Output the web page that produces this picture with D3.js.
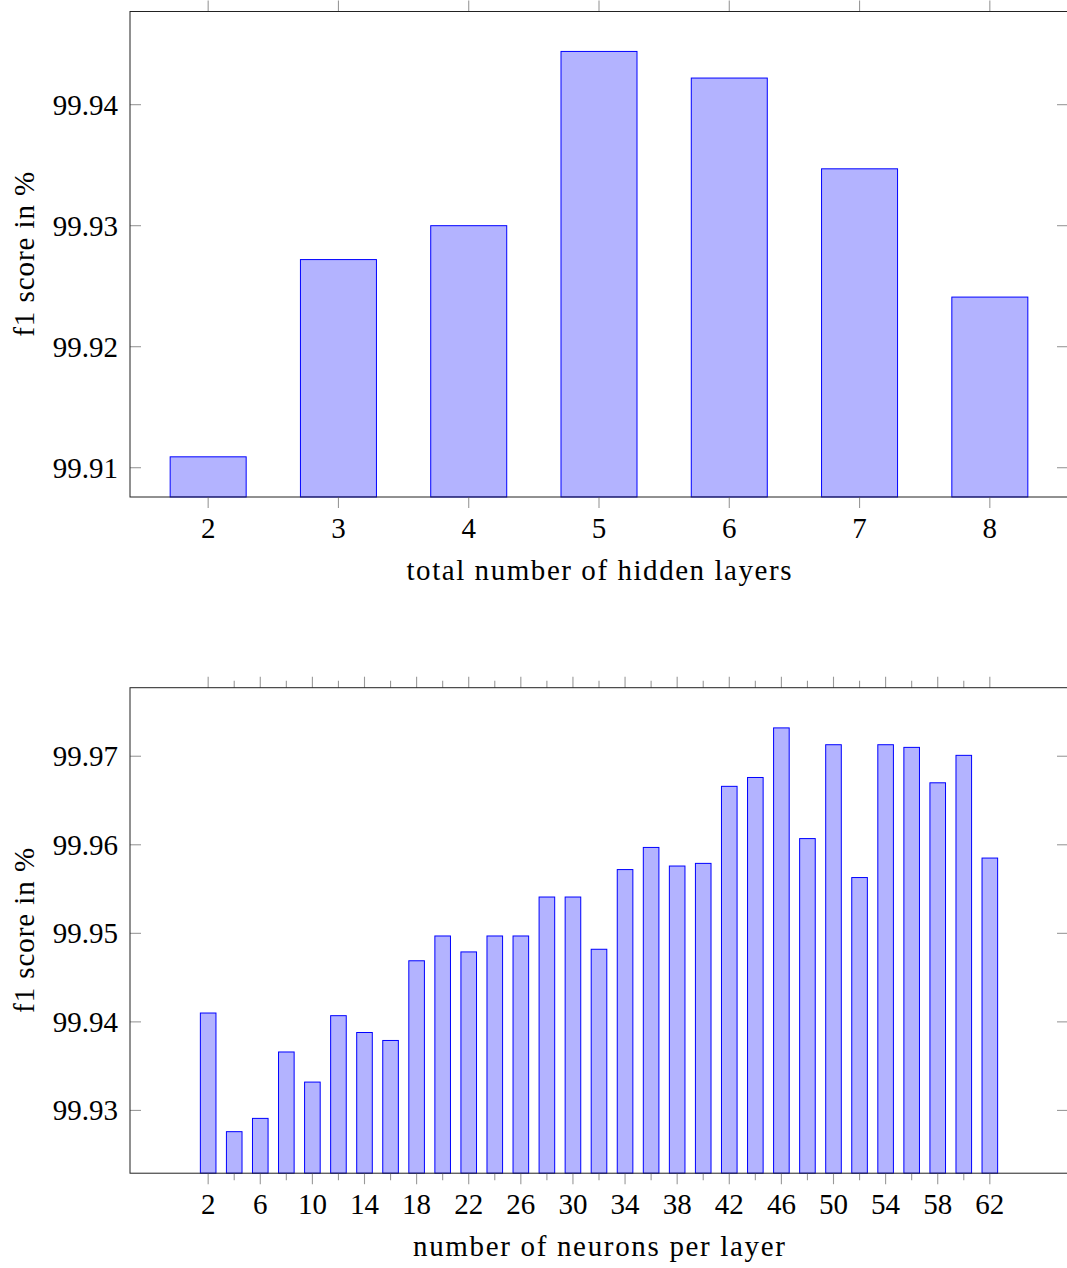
<!DOCTYPE html>
<html>
<head>
<meta charset="utf-8">
<script src="https://cdn.jsdelivr.net/npm/d3@7"></script>
<style>
  body { margin: 0; background: #fff; }
  svg { display: block; }
  text { font-family: "Liberation Serif", "DejaVu Serif", serif; fill: #000; }
</style>
</head>
<body>
<div id="chart"></div>
<script>
// hidden layers panel
const layerCounts = [2, 3, 4, 5, 6, 7, 8];
const layerScores = [99.9109, 99.9272, 99.9300, 99.9444, 99.9422, 99.9347, 99.9241];
const layerYTicks = [99.91, 99.92, 99.93, 99.94];

// neurons per layer panel
const neuronCounts = [2, 4, 6, 8, 10, 12, 14, 16, 18, 20, 22, 24, 26, 28, 30, 32,
    34, 36, 38, 40, 42, 44, 46, 48, 50, 52, 54, 56, 58, 60, 62];
const neuronScores = [99.9410, 99.9276, 99.9291, 99.9366, 99.9332, 99.9407, 99.9388, 99.9379,
    99.9469, 99.9497, 99.9479, 99.9497, 99.9497, 99.9541, 99.9541, 99.9482,
    99.9572, 99.9597, 99.9576, 99.9579, 99.9666, 99.9676, 99.9732, 99.9607,
    99.9713, 99.9563, 99.9713, 99.9710, 99.9670, 99.9701, 99.9585];
const neuronXTicks = [2, 6, 10, 14, 18, 22, 26, 30, 34, 38, 42, 46, 50, 54, 58, 62];
const neuronXMinor = [4, 8, 12, 16, 20, 24, 28, 32, 36, 40, 44, 48, 52, 56, 60];
const neuronYTicks = [99.93, 99.94, 99.95, 99.96, 99.97];

const width = 1067;
const height = 1268;

const svg = d3.create("svg")
    .attr("width", width)
    .attr("height", height);

d3.select("#chart").node().append(svg.node());

const left = 130;
const right = 1068;
const panelHeight = 485.5;

function drawPanel(opts) {
    const top = opts.top;
    const bottom = top + panelHeight;
    const g = svg.append("g");

    const x = d3.scaleLinear().domain(opts.xDomain).range([left, right]);
    const y = d3.scaleLinear().domain(opts.yDomain).range([bottom, top]);

    const bw = opts.barWidth;
    g.append("g")
        .selectAll("rect")
        .data(opts.xs.map((v, i) => ({ x: v, y: opts.ys[i] })))
        .join("rect")
        .attr("x", d => x(d.x) - bw / 2)
        .attr("width", bw)
        .attr("y", d => y(d.y))
        .attr("height", d => bottom - y(d.y))
        .attr("fill", "#b3b3ff")
        .attr("stroke", "#0000ff")
        .attr("stroke-width", 1);

    // x ticks outside, top and bottom
    const ticks = g.append("g").attr("stroke", "#999").attr("stroke-width", 1.1);
    const xt = opts.xTicks.map(v => ({ v, len: 11 }))
        .concat((opts.xMinor || []).map(v => ({ v, len: 7 })));
    xt.forEach(t => {
        ticks.append("line").attr("x1", x(t.v)).attr("x2", x(t.v))
            .attr("y1", bottom).attr("y2", bottom + t.len);
        ticks.append("line").attr("x1", x(t.v)).attr("x2", x(t.v))
            .attr("y1", top).attr("y2", top - t.len);
    });
    // y ticks inside, left and right
    opts.yTicks.forEach(v => {
        ticks.append("line").attr("x1", left).attr("x2", left + 11)
            .attr("y1", y(v)).attr("y2", y(v));
        ticks.append("line").attr("x1", right - 11).attr("x2", right)
            .attr("y1", y(v)).attr("y2", y(v));
    });

    g.append("rect")
        .attr("x", left).attr("y", top)
        .attr("width", right - left).attr("height", panelHeight)
        .attr("fill", "none")
        .attr("stroke", "#222")
        .attr("stroke-width", 1);

    g.append("g")
        .selectAll("text")
        .data(opts.xTicks)
        .join("text")
        .attr("x", d => x(d))
        .attr("y", bottom + 41)
        .attr("text-anchor", "middle")
        .attr("font-size", 29)
        .text(d => d);

    g.append("g")
        .selectAll("text")
        .data(opts.yTicks)
        .join("text")
        .attr("x", 118)
        .attr("y", d => y(d) + 10)
        .attr("text-anchor", "end")
        .attr("font-size", 29)
        .text(d => d.toFixed(2));

    g.append("text")
        .attr("x", (left + right) / 2)
        .attr("y", bottom + 83)
        .attr("text-anchor", "middle")
        .attr("font-size", 29)
        .attr("textLength", opts.xLabelLength)
        .attr("lengthAdjust", "spacing")
        .text(opts.xLabel);

    g.append("text")
        .attr("transform", `translate(34,${(top + bottom) / 2}) rotate(-90)`)
        .attr("text-anchor", "middle")
        .attr("font-size", 29)
        .attr("textLength", 165)
        .attr("lengthAdjust", "spacing")
        .text("f1 score in %");
}

drawPanel({
    top: 11.5,
    xDomain: [1.4, 8.6],
    yDomain: [99.90758, 99.9477],
    xs: layerCounts,
    ys: layerScores,
    barWidth: 76,
    xTicks: layerCounts,
    yTicks: layerYTicks,
    xLabel: "total number of hidden layers",
    xLabelLength: 385
});

drawPanel({
    top: 687.7,
    xDomain: [-4, 68],
    yDomain: [99.92291, 99.97774],
    xs: neuronCounts,
    ys: neuronScores,
    barWidth: 15.6,
    xTicks: neuronXTicks,
    xMinor: neuronXMinor,
    yTicks: neuronYTicks,
    xLabel: "number of neurons per layer",
    xLabelLength: 372
});
</script>
</body>
</html>
